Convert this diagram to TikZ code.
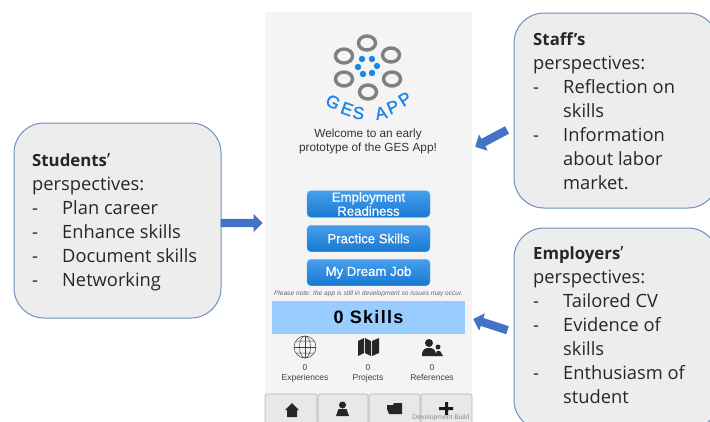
\documentclass[tikz,border=0pt]{standalone}
\usepackage{fontspec}
\setmainfont{Open Sans}
\newfontfamily\appfont{Liberation Sans}
\newfontfamily\appmedium[FakeBold=0.5]{Liberation Sans}
\newfontfamily\logofont[FakeBold=1.2]{Liberation Sans}
\usetikzlibrary{shapes.arrows, shapes.geometric}
\definecolor{boxfill}{HTML}{EDEDED}
\definecolor{boxline}{HTML}{6F8FBF}
\definecolor{arrowblue}{HTML}{4472C4}
\definecolor{appblue}{HTML}{1A86E8}
\definecolor{screen}{HTML}{F4F4F4}
\definecolor{ringgray}{HTML}{808080}
\definecolor{skillbar}{HTML}{99CCFF}
\tikzset{
	x=1pt, y=-1pt,
	viewbox/.style={draw=boxline, line width=1pt, fill=boxfill, rounded corners=30pt},
	viewtext/.style={anchor=north west, align=left, inner sep=0pt, font=\fontsize{18.3}{24}\selectfont, text=black!85},
	blockarrow/.style={shape=single arrow, anchor=tip, fill=arrowblue, draw=none, minimum width=18pt, single arrow head extend=5pt, single arrow head indent=0pt, inner sep=4pt},
	ring/.style={draw=ringgray, line width=3.4pt, ellipse, minimum width=17pt, minimum height=14pt, inner sep=0pt},
	seed/.style={circle, fill=appblue, minimum size=6.4pt, inner sep=0pt},
	menubutton/.style={rounded corners=4pt, top color=appblue!80!white, bottom color=appblue!90!black, draw=appblue!70!white, line width=0.3pt, minimum width=123pt, minimum height=26.5pt, inner sep=0pt, text=white, align=center, font=\appmedium\fontsize{13.2}{14}\selectfont},
	counter/.style={anchor=north, font=\appfont\fontsize{8.5}{10}\selectfont, text=black!75, align=center},
	tabbar/.style={draw=black!30, fill=black!9, rounded corners=2pt, line width=0.6pt},
	logoletter/.style={font=\logofont\fontsize{17.5}{18}\selectfont, text=appblue, inner sep=0pt},
}
\newcommand{\dashitem}[1]{\makebox[30pt][l]{-}#1}
\newcommand{\dashmore}[1]{\hspace*{30pt}#1}
\newcommand{\whoword}[1]{{\fontsize{16.8}{24}\selectfont\bfseries #1}}
\begin{document}
\begin{tikzpicture}
	\useasboundingbox (0,0) rectangle (710,421);
	
	% phone screen
	\fill[screen] (265,12) rectangle (472,421);
	
	% logo
	\node[ring] (ringT) at (367,43) {};
	\node[ring] (ringUL) at (344,56) {};
	\node[ring] (ringUR) at (391,55) {};
	\node[ring] (ringLL) at (344,79) {};
	\node[ring] (ringLR) at (392,79) {};
	\node[ring] (ringB) at (368,92) {};
	\foreach \px/\py [count=\n] in {362/59, 372/59, 377/66, 372/73, 363/74, 358/67}
		\node[seed] (seed\n) at (\px,\py) {};
	\foreach \ch/\px/\py/\rot [count=\n] in {G/333/102/-28, E/347/109/-20, S/358.5/113/-9, A/381/113/12, P/393/107/22, P/405/99/32}
		\node[logoletter, rotate=\rot] (letter\n) at (\px,\py) {\ch};
	
	\node[font=\appfont\fontsize{11.8}{14}\selectfont, text=black!80, align=center] (welcome) at (368,141) {Welcome to an early\\prototype of the GES App!};
	
	% buttons
	\node[menubutton] (readiness) at (368.5,204) {Employment\\Readiness};
	\node[menubutton] (practice) at (368.5,238.5) {Practice Skills};
	\node[menubutton] (dreamjob) at (368.5,272.5) {My Dream Job};
	\node[font=\appfont\itshape\fontsize{6.6}{8}\selectfont, text=black!60] (note) at (368.5,294) {Please note: the app is still in development so issues may occur.};
	
	% skills bar
	\node[fill=skillbar, minimum width=193pt, minimum height=33pt, inner sep=0pt, font=\appfont\bfseries\fontsize{18}{20}\selectfont\addfontfeature{LetterSpace=7}, text=black] (skills) at (368.5,317.5) {0 Skills};
	
	% counters
	\node[counter] (experiences) at (305,361.5) {0\\Experiences};
	\node[counter] (projects) at (368,361.5) {0\\Projects};
	\node[counter] (references) at (432,361.5) {0\\References};
	
	% globe
	\node[circle, draw=black!75, line width=0.5pt, minimum size=22pt, inner sep=0pt] (globe) at (305,347) {};
	\draw[black!75, line width=0.5pt] (globe.north) -- (globe.south) (globe.west) -- (globe.east);
	\draw[black!75, line width=0.5pt] (globe.center) ellipse (5.5 and 11) (296,341) -- (314,341) (296,353) -- (314,353);
	% map
	\fill[black!85] (358,341) -- (364,338) -- (364,353) -- (358,356) -- cycle
		(365,338) -- (371,341) -- (371,356) -- (365,353) -- cycle
		(372,341) -- (379,338) -- (379,353) -- (372,356) -- cycle;
	% people
	\fill[black!85] (429,343) circle (4) (422,356) .. controls (422,349) and (425,348) .. (429,348) .. controls (433,348) and (436,349) .. (436,356) -- cycle;
	\fill[black!85] (438,347) circle (2.5) (435,356) -- (437,351) -- (440,351) -- (443,356) -- cycle;
	
	% tabs
	\draw[tabbar] (265,423) -- (265,394) -- (317,394) -- (317,423);
	\draw[tabbar] (318,423) -- (318,394) -- (368,394) -- (368,423);
	\draw[tabbar] (369,423) -- (369,394) -- (420,394) -- (420,423);
	\draw[tabbar] (421,423) -- (421,394) -- (472,394) -- (472,423);
	% home
	\fill[black!85] (292,403) -- (299,410) -- (297,410) -- (297,417) -- (287,417) -- (287,410) -- (285,410) -- cycle;
	% person
	\fill[black!85] (342.5,405) circle (3.5) (336,416) -- (338.5,409) -- (346.5,409) -- (349,416) -- cycle;
	% folder
	\fill[black!85] (387,405) -- (393,405) -- (394,403) -- (402,403) -- (402,414) -- (389,414) -- (387,409) -- cycle;
	% plus
	\fill[black!90] (445,402) rectangle (448,415) (439,407) rectangle (453,410);
	\node[font=\appfont\fontsize{6.8}{7}\selectfont, text=black!45] (devbuild) at (441,417.5) {Development Build};
	
	% perspectives
	\draw[viewbox] (14,123) rectangle (221,318);
	\node[viewtext] (students) at (32,153) {\whoword{Students}’\\perspectives:\\\dashitem{Plan career}\\\dashitem{Enhance skills}\\\dashitem{Document skills}\\\dashitem{Networking}};
	
	\draw[viewbox] (514,13) rectangle (718,208);
	\node[viewtext] (staff) at (533,32.5) {\whoword{Staff’s}\\perspectives:\\\dashitem{Reflection on}\\\dashmore{skills}\\\dashitem{Information}\\\dashmore{about labor}\\\dashmore{market.}};
	
	\draw[viewbox] (514,228) rectangle (718,430);
	\node[viewtext] (employers) at (533,246) {\whoword{Employers}’\\perspectives:\\\dashitem{Tailored CV}\\\dashitem{Evidence of}\\\dashmore{skills}\\\dashitem{Enthusiasm of}\\\dashmore{student}};
	
	% arrows
	\node[blockarrow, minimum height=42pt] (arrowStudents) at (263,223) {};
	\node[blockarrow, minimum height=36pt, rotate=208] (arrowStaff) at (475,147) {};
	\node[blockarrow, minimum height=36pt, rotate=162] (arrowEmployers) at (473,319) {};
\end{tikzpicture}
\end{document}
